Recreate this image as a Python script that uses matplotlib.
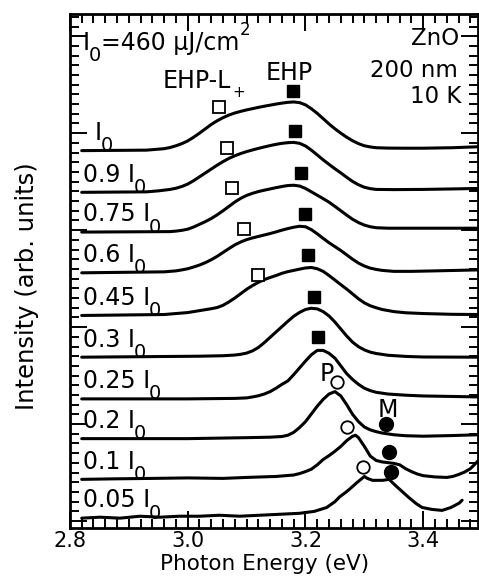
import matplotlib
matplotlib.use('Agg')
import matplotlib.pyplot as plt
from matplotlib.ticker import MultipleLocator

# spectra, bottom to top: photon energy (eV) and intensity above baseline (arb.)
labels = ['0.05 I', '0.1 I', '0.2 I', '0.25 I', '0.3 I', '0.45 I', '0.6 I', '0.75 I', '0.9 I', 'I']
offsets = [0.3, 4.3, 8.5, 12.6, 16.9, 21.2, 25.6, 29.8, 33.9, 38.2]

e_005 = [2.82, 2.851, 2.885, 2.919, 2.953, 2.986, 3.020, 3.054, 3.088, 3.122, 3.156, 3.190, 3.215,
         3.236, 3.25, 3.258, 3.268, 3.275, 3.288, 3.300, 3.305, 3.314, 3.331, 3.342, 3.354, 3.365,
         3.376, 3.388, 3.398, 3.415, 3.432, 3.447, 3.461, 3.466]
i_005 = [0.0, 0.1, 0.0, 0.2, 0.1, 0.2, 0.2, 0.3, 0.2, 0.3, 0.4, 0.5, 0.7,
         1.1, 1.7, 2.2, 2.65, 3.0, 3.7, 4.3, 4.1, 3.9, 3.9, 4.0, 3.3, 2.7,
         2.1, 1.5, 1.1, 0.9, 0.8, 1.1, 1.55, 1.85]

e_01 = [2.82, 2.87, 2.94, 3.00, 3.06, 3.10, 3.15, 3.18, 3.19, 3.20, 3.21, 3.22, 3.23, 3.24,
        3.25, 3.26, 3.27, 3.28, 3.285, 3.29, 3.30, 3.31, 3.32, 3.33, 3.35, 3.36, 3.37, 3.38,
        3.39, 3.40, 3.42, 3.44, 3.45, 3.46, 3.47, 3.48, 3.493]
i_01 = [0.0, 0.05, 0.1, 0.15, 0.1, 0.2, 0.3, 0.45, 0.6, 0.8, 1.05, 1.5, 2.05, 2.45,
        2.9, 3.4, 4.0, 4.45, 4.55, 4.3, 3.4, 2.4, 1.95, 1.8, 1.65, 1.5, 1.1, 0.8,
        0.55, 0.38, 0.25, 0.2, 0.3, 0.5, 0.75, 1.1, 1.9]

e_02 = [2.82, 3.0, 3.10, 3.14, 3.16, 3.17, 3.18, 3.19, 3.20, 3.21, 3.22, 3.23, 3.24, 3.25,
        3.26, 3.27, 3.28, 3.29, 3.30, 3.31, 3.32, 3.33, 3.35, 3.37, 3.40, 3.45, 3.493]
i_02 = [0.0, 0.0, 0.1, 0.15, 0.22, 0.35, 0.65, 1.15, 1.75, 2.55, 3.35, 4.05, 4.6, 4.85,
        4.4, 3.5, 2.5, 1.75, 1.2, 0.9, 0.72, 0.58, 0.4, 0.3, 0.25, 0.32, 0.4]

e_025 = [2.82, 3.0, 3.08, 3.10, 3.11, 3.12, 3.13, 3.14, 3.15, 3.16, 3.17, 3.18, 3.19, 3.20,
         3.21, 3.22, 3.23, 3.24, 3.25, 3.26, 3.27, 3.28, 3.29, 3.30, 3.31, 3.32, 3.34, 3.37,
         3.40, 3.45, 3.493]
i_025 = [0.0, 0.0, 0.05, 0.1, 0.2, 0.32, 0.5, 0.75, 1.1, 1.5, 1.85, 2.5, 3.2, 3.9,
         4.55, 5.0, 5.0, 4.7, 4.2, 3.4, 2.6, 2.0, 1.5, 1.1, 0.85, 0.68, 0.5, 0.38,
         0.3, 0.25, 0.2]

e_03 = [2.82, 3.02, 3.06, 3.08, 3.09, 3.10, 3.11, 3.12, 3.13, 3.14, 3.15, 3.16, 3.17, 3.18,
        3.19, 3.20, 3.21, 3.22, 3.23, 3.24, 3.25, 3.26, 3.27, 3.28, 3.29, 3.30, 3.31, 3.32,
        3.34, 3.37, 3.40, 3.493]
i_03 = [0.0, 0.1, 0.15, 0.22, 0.3, 0.42, 0.65, 1.0, 1.5, 2.05, 2.6, 3.15, 3.7, 4.22,
        4.62, 4.92, 5.05, 4.98, 4.7, 4.25, 3.62, 2.9, 2.18, 1.55, 1.08, 0.75, 0.52, 0.38,
        0.2, 0.08, 0.02, 0.0]

e_045 = [2.82, 2.96, 3.00, 3.02, 3.04, 3.05, 3.06, 3.07, 3.08, 3.09, 3.10, 3.11, 3.12, 3.13,
         3.14, 3.15, 3.16, 3.17, 3.18, 3.19, 3.20, 3.21, 3.22, 3.23, 3.24, 3.25, 3.26, 3.27,
         3.28, 3.29, 3.30, 3.31, 3.32, 3.33, 3.35, 3.37, 3.40, 3.45, 3.493]
i_045 = [0.0, 0.1, 0.3, 0.5, 0.7, 0.82, 1.05, 1.4, 1.8, 2.25, 2.7, 3.08, 3.42, 3.7,
         3.92, 4.12, 4.35, 4.52, 4.65, 4.78, 4.9, 4.95, 4.82, 4.55, 4.12, 3.65, 3.18, 2.72,
         2.22, 1.72, 1.3, 1.0, 0.8, 0.62, 0.4, 0.28, 0.2, 0.12, 0.1]

e_06 = [2.82, 2.96, 2.98, 2.99, 3.00, 3.01, 3.02, 3.03, 3.04, 3.05, 3.06, 3.07, 3.08, 3.09,
        3.10, 3.11, 3.12, 3.13, 3.14, 3.15, 3.16, 3.17, 3.18, 3.19, 3.20, 3.21, 3.22, 3.23,
        3.24, 3.25, 3.26, 3.27, 3.28, 3.29, 3.30, 3.31, 3.32, 3.33, 3.35, 3.38, 3.42, 3.493]
i_06 = [0.0, 0.1, 0.2, 0.3, 0.42, 0.6, 0.8, 1.05, 1.35, 1.7, 2.1, 2.5, 2.88, 3.18,
        3.42, 3.6, 3.75, 3.9, 4.05, 4.22, 4.4, 4.56, 4.7, 4.8, 4.75, 4.45, 4.02, 3.55,
        3.1, 2.7, 2.3, 1.85, 1.4, 1.0, 0.7, 0.48, 0.35, 0.25, 0.15, 0.15, 0.2, 0.3]

e_075 = [2.82, 2.97, 2.98, 2.99, 3.00, 3.01, 3.02, 3.03, 3.04, 3.05, 3.06, 3.07, 3.08, 3.09,
         3.10, 3.11, 3.12, 3.13, 3.14, 3.15, 3.16, 3.17, 3.18, 3.19, 3.20, 3.21, 3.22, 3.23,
         3.24, 3.25, 3.26, 3.27, 3.28, 3.29, 3.30, 3.31, 3.32, 3.34, 3.40, 3.493]
i_075 = [0.0, 0.05, 0.1, 0.18, 0.3, 0.52, 0.8, 1.08, 1.4, 1.78, 2.2, 2.65, 3.1, 3.48,
         3.78, 4.0, 4.18, 4.32, 4.45, 4.58, 4.7, 4.8, 4.83, 4.75, 4.5, 4.15, 3.8, 3.45,
         3.08, 2.65, 2.2, 1.75, 1.32, 0.98, 0.72, 0.55, 0.45, 0.4, 0.4, 0.4]

e_09 = [2.82, 2.93, 2.95, 2.97, 2.98, 2.99, 3.00, 3.01, 3.02, 3.03, 3.04, 3.05, 3.06, 3.07,
        3.08, 3.09, 3.10, 3.11, 3.12, 3.13, 3.14, 3.15, 3.16, 3.17, 3.18, 3.19, 3.20, 3.21,
        3.22, 3.23, 3.24, 3.25, 3.26, 3.27, 3.28, 3.29, 3.30, 3.31, 3.32, 3.35, 3.40, 3.45,
        3.493]
i_09 = [0.0, 0.05, 0.15, 0.3, 0.42, 0.6, 0.85, 1.2, 1.6, 2.0, 2.4, 2.8, 3.17, 3.5,
        3.77, 4.0, 4.2, 4.37, 4.53, 4.68, 4.82, 4.95, 5.05, 5.12, 5.15, 5.05, 4.78, 4.35,
        3.85, 3.35, 2.88, 2.43, 2.0, 1.55, 1.12, 0.78, 0.52, 0.38, 0.3, 0.28, 0.3, 0.35,
        0.4]

e_10 = [2.82, 2.93, 2.94, 2.95, 2.96, 2.97, 2.98, 2.99, 3.00, 3.01, 3.02, 3.03, 3.04, 3.05,
        3.06, 3.07, 3.08, 3.09, 3.10, 3.11, 3.12, 3.13, 3.14, 3.15, 3.16, 3.17, 3.18, 3.19,
        3.20, 3.21, 3.22, 3.23, 3.24, 3.25, 3.26, 3.27, 3.28, 3.29, 3.30, 3.31, 3.32, 3.34,
        3.37, 3.40, 3.45, 3.493]
i_10 = [0.0, 0.05, 0.1, 0.15, 0.2, 0.32, 0.5, 0.72, 1.0, 1.38, 1.8, 2.25, 2.7, 3.08,
        3.4, 3.67, 3.88, 4.05, 4.2, 4.33, 4.46, 4.58, 4.69, 4.8, 4.9, 4.98, 5.02, 4.95,
        4.72, 4.32, 3.84, 3.3, 2.75, 2.25, 1.8, 1.38, 1.02, 0.72, 0.5, 0.38, 0.3, 0.26,
        0.25, 0.25, 0.3, 0.4]

energies = [e_005, e_01, e_02, e_025, e_03, e_045, e_06, e_075, e_09, e_10]
intens = [i_005, i_01, i_02, i_025, i_03, i_045, i_06, i_075, i_09, i_10]

# peak markers (energy, stacked height)
ehp_e = [3.178, 3.183, 3.193, 3.200, 3.205, 3.215, 3.222]
ehp_y = [44.33, 40.21, 35.88, 31.65, 27.42, 23.09, 18.97]
ehpl_e = [3.053, 3.066, 3.076, 3.095, 3.120]
ehpl_y = [42.68, 38.45, 34.33, 30.10, 25.36]
p_e = [3.253, 3.271, 3.297]
p_y = [14.33, 9.69, 5.57]
m_e = [3.337, 3.342, 3.346]
m_y = [10.0, 7.11, 5.05]

fig = plt.figure(figsize=(4.79, 5.79), dpi=100)
ax = fig.add_axes([0.146, 0.088, 0.852, 0.888])

for e, i, off in zip(energies, intens, offsets):
    ax.plot(e, [v + off for v in i], color='black', lw=2.2,
            solid_joinstyle='round', solid_capstyle='round')

ax.plot(ehp_e, ehp_y, 's', ms=9, color='black')
ax.plot(ehpl_e, ehpl_y, 's', ms=8, mfc='white', mec='black', mew=1.3)
ax.plot(p_e, p_y, 'o', ms=9, mfc='white', mec='black', mew=1.3)
ax.plot(m_e, m_y, 'o', ms=10, color='black')

fs = 17
sub_fs = 14
for lab, off in zip(labels, offsets):
    x0 = 2.842 if lab == 'I' else 2.822
    t = ax.text(x0, off + 1.1, lab, fontsize=fs, va='baseline')
    ax.annotate('0', xy=(1, 0), xycoords=t, xytext=(-1, -4.5),
                textcoords='offset points', fontsize=sub_fs, va='baseline')

# fluence note
t1 = ax.text(2.822, 48.56, 'I', fontsize=fs, va='baseline')
t2 = ax.annotate('0', xy=(1, 0), xycoords=t1, xytext=(-1, -4.5),
                 textcoords='offset points', fontsize=sub_fs, va='baseline')
t3 = ax.annotate('=460 µJ/cm', xy=(1, 0), xycoords=(t2, t1), xytext=(0, 0),
                 textcoords='offset points', fontsize=fs, va='bottom')
ax.annotate('2', xy=(1, 1), xycoords=t3, xytext=(0.5, -6),
            textcoords='offset points', fontsize=12, va='bottom')

t4 = ax.text(2.958, 44.64, 'EHP-L', fontsize=fs, va='baseline')
ax.annotate('+', xy=(1, 0), xycoords=t4, xytext=(1, -3),
            textcoords='offset points', fontsize=11, va='baseline')
ax.text(3.173, 45.46, 'EHP', fontsize=fs, ha='center', va='baseline')
ax.text(3.224, 14.43, 'P', fontsize=fs, va='baseline')
ax.text(3.339, 10.72, 'M', fontsize=fs, ha='center', va='baseline')

ax.text(3.461, 49.07, 'ZnO', fontsize=16.5, ha='right', va='baseline')
ax.text(3.459, 45.77, '200 nm', fontsize=16.5, ha='right', va='baseline')
ax.text(3.464, 43.09, '10 K', fontsize=16.5, ha='right', va='baseline')

ax.set_xlim(2.8, 3.493)
ax.set_ylim(-0.72, 52.3)
ax.xaxis.set_major_locator(MultipleLocator(0.2))
ax.xaxis.set_minor_locator(MultipleLocator(0.02))
ax.yaxis.set_major_locator(MultipleLocator(10))
ax.yaxis.set_minor_locator(MultipleLocator(1))
ax.tick_params(which='both', direction='in', top=True, right=True, width=1.4,
               labelleft=False, labelsize=15, pad=2)
ax.tick_params(which='major', length=12)
ax.tick_params(which='minor', length=6.5)
for sp in ax.spines.values():
    sp.set_linewidth(2)

ax.set_xlabel('Photon Energy (eV)', fontsize=15.5)
ax.xaxis.set_label_coords(0.477, -0.051)
ax.set_ylabel('Intensity (arb. units)', fontsize=17.5)
ax.yaxis.set_label_coords(-0.075, 0.47)

plt.savefig('out.png', dpi=100)
